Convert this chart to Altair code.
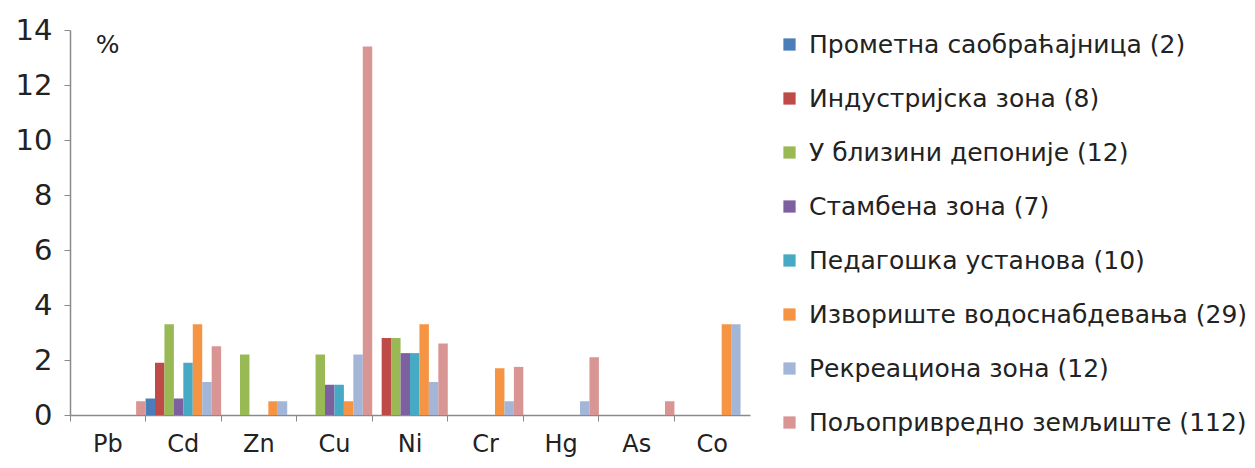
import altair as alt
import pandas as pd

elements = ["Pb", "Cd", "Zn", "Cu", "Ni", "Cr", "Hg", "As", "Co"]

series = [
    "Прометна саобраћајница (2)",
    "Индустријска зона (8)",
    "У близини депоније (12)",
    "Стамбена зона (7)",
    "Педагошка установа (10)",
    "Извориште водоснабдевања (29)",
    "Рекреациона зона (12)",
    "Пољопривредно земљиште (112)",
]

colors = ["#4A7EBB", "#BE4B48", "#98B954", "#7D60A0", "#46AAC5", "#F59443", "#A3B6D8", "#D99594"]

prometna = [0, 0.6, 0, 0, 0, 0, 0, 0, 0]
industrijska = [0, 1.9, 0, 0, 2.8, 0, 0, 0, 0]
deponija = [0, 3.3, 2.2, 2.2, 2.8, 0, 0, 0, 0]
stambena = [0, 0.6, 0, 1.1, 2.25, 0, 0, 0, 0]
pedagoska = [0, 1.9, 0, 1.1, 2.25, 0, 0, 0, 0]
izvoriste = [0, 3.3, 0.5, 0.5, 3.3, 1.7, 0, 0, 3.3]
rekreaciona = [0, 1.2, 0.5, 2.2, 1.2, 0.5, 0.5, 0, 3.3]
poljoprivredno = [0.5, 2.5, 0, 13.4, 2.6, 1.75, 2.1, 0.5, 0]

all_values = [prometna, industrijska, deponija, stambena, pedagoska, izvoriste, rekreaciona, poljoprivredno]

rows = []
for s, vals in zip(series, all_values):
    for e, v in zip(elements, vals):
        rows.append({"element": e, "series": s, "value": v})
df = pd.DataFrame(rows)

FONT = "DejaVu Sans"

chart = alt.Chart(df).mark_bar().encode(
    x=alt.X(
        "element:N",
        sort=elements,
        scale=alt.Scale(paddingInner=0, paddingOuter=0),
        axis=alt.Axis(
            title=None,
            labelAngle=0,
            labelFontSize=24,
            labelFont=FONT,
            labelColor="#222222",
            labelPadding=11,
            bandPosition=0,
            tickSize=6,
            tickColor="#8a8a8a",
            domainColor="#8a8a8a",
            domainWidth=1.5,
            grid=False,
        ),
    ),
    xOffset=alt.XOffset("series:N", sort=series, scale=alt.Scale(paddingInner=0, paddingOuter=0)),
    y=alt.Y(
        "value:Q",
        scale=alt.Scale(domain=[0, 14], nice=False),
        axis=alt.Axis(
            values=[0, 2, 4, 6, 8, 10, 12, 14],
            labelFontSize=29,
            labelFont=FONT,
            labelColor="#222222",
            labelPadding=12,
            tickSize=6,
            tickColor="#8a8a8a",
            domainColor="#8a8a8a",
            domainWidth=1.5,
            grid=False,
            title="%",
            titleAngle=0,
            titleFont=FONT,
            titleFontSize=25,
            titleFontWeight="normal",
            titleColor="#222222",
            titleAlign="center",
            titleBaseline="alphabetic",
            titleX=37,
            titleY=22,
        ),
    ),
    color=alt.Color(
        "series:N",
        sort=series,
        scale=alt.Scale(domain=series, range=colors),
        legend=alt.Legend(
            title=None,
            orient="none",
            legendX=707,
            legendY=2,
            symbolType="square",
            symbolSize=150,
            symbolStrokeWidth=0,
            labelFont=FONT,
            labelFontSize=25,
            labelColor="#222222",
            labelLimit=0,
            labelOffset=7,
            rowPadding=28,
            padding=0,
        ),
    ),
).properties(
    width=680,
    height=385,
    autosize=alt.AutoSizeParams(type="none"),
    padding={"left": 62, "top": 22, "right": 497, "bottom": 45},
).configure_view(stroke=None)

chart.save("out.html", embed_options={"renderer": "svg", "actions": False})
